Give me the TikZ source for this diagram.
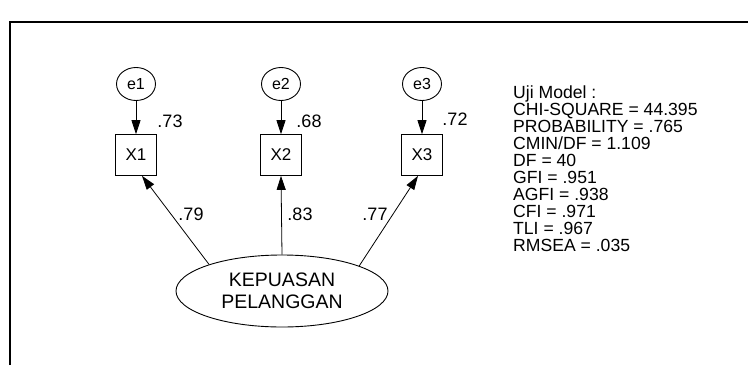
\documentclass[tikz,border=0pt]{standalone}
\usepackage{fontspec}
\setmainfont{Liberation Sans}
\usetikzlibrary{arrows.meta,shapes.geometric}
\tikzset{
  err/.style={draw, ellipse, minimum width=39pt, minimum height=33pt, inner sep=0pt, line width=0.9pt, font=\fontsize{16}{16}\selectfont},
  obs/.style={draw, rectangle, minimum width=41pt, minimum height=41pt, inner sep=0pt, line width=0.7pt, font=\fontsize{17}{17}\selectfont},
  lat/.style={draw, ellipse, minimum width=212pt, minimum height=72pt, inner sep=0pt, align=center, line width=0.9pt, font=\fontsize{19.5}{22}\selectfont},
  path/.style={line width=0.8pt, -{Triangle[length=14pt,width=9pt]}},
  coef/.style={font=\fontsize{18}{18}\selectfont, inner sep=0pt},
  frame/.style={line width=2pt}
}
\begin{document}
\begin{tikzpicture}[x=1pt,y=-1pt]
\useasboundingbox (0,0) rectangle (748,365);
\coordinate (ftl) at (10,22);
\coordinate (ftr) at (748,22);
\coordinate (fbl) at (10,365);
\draw[frame] (fbl) -- (ftl) -- (ftr);
% error terms
\node[err] (e1) at (136,84) {e1};
\node[err] (e2) at (281,84) {e2};
\node[err] (e3) at (422,84) {e3};
% indicators
\node[obs] (x1) at (136,155) {X1};
\node[obs] (x2) at (281,155) {X2};
\node[obs] (x3) at (422,155) {X3};
% latent
\node[lat] (lat) at (282,291) {KEPUASAN\\PELANGGAN};
% arrow tips on indicator boxes
\coordinate (t1) at ([xshift=6pt]x1.south);
\coordinate (t3) at ([xshift=-4pt]x3.south);
% paths
\draw[path] (e1) -- (x1);
\draw[path] (e2) -- (x2);
\draw[path] (e3) -- (x3);
\draw[path] (lat.160) -- (t1);
\draw[path] (lat.north) -- (x2.south);
\draw[path] (lat.18) -- (t3);
% coefficients
\node[coef] (c73) at (170,121) {.73};
\node[coef] (c68) at (309,121) {.68};
\node[coef] (c72) at (455,119) {.72};
\node[coef] (c79) at (191,214) {.79};
\node[coef] (c83) at (300,214) {.83};
\node[coef] (c77) at (375,214) {.77};
% model fit
\node[anchor=north west, align=left, inner sep=0pt, font=\fontsize{17.6}{17}\selectfont] (fit) at (513,86) {Uji Model :\\CHI-SQUARE = 44.395\\PROBABILITY = .765\\CMIN/DF = 1.109\\DF = 40\\GFI = .951\\AGFI = .938\\CFI = .971\\TLI = .967\\RMSEA = .035};
\end{tikzpicture}
\end{document}
